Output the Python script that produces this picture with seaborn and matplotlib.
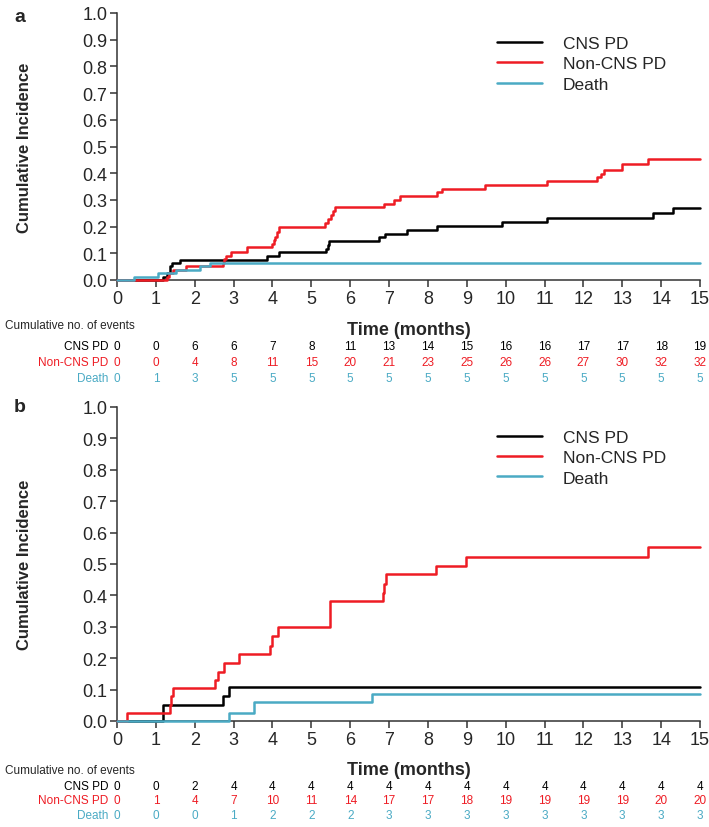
import matplotlib
matplotlib.use("Agg")
import matplotlib.pyplot as plt
import matplotlib.transforms as mtransforms
import numpy as np
import pandas as pd
import seaborn as sns

sns.set_style("ticks")
plt.rcParams["font.family"] = ["Liberation Sans", "DejaVu Sans"]

events = ["CNS PD", "Non-CNS PD", "Death"]
colors = {"CNS PD": "#000000", "Non-CNS PD": "#ee1c24", "Death": "#4aaac4"}
months = list(range(16))

# panel a: step curves (time in months, cumulative incidence)
a_cns_t = [0, 1.19, 1.28, 1.37, 1.41, 1.62, 3.87, 4.16, 5.38, 5.42, 5.45, 6.73, 6.89, 7.45, 8.24, 9.91, 11.06, 13.78, 14.3, 15]
a_cns_y = [0, 0.013, 0.025, 0.051, 0.064, 0.076, 0.091, 0.104, 0.117, 0.130, 0.145, 0.160, 0.172, 0.188, 0.203, 0.218, 0.231, 0.250, 0.268, 0.268]
a_non_t = [0, 1.28, 1.35, 1.43, 1.78, 2.72, 2.76, 2.80, 2.93, 3.34, 3.99, 4.03, 4.07, 4.11, 4.16, 5.36, 5.42, 5.50, 5.55, 5.60,
           6.88, 7.12, 7.29, 8.24, 8.37, 9.48, 11.07, 12.36, 12.45, 12.53, 13.0, 13.65, 15]
a_non_y = [0, 0.013, 0.025, 0.038, 0.051, 0.064, 0.077, 0.090, 0.104, 0.122, 0.135, 0.148, 0.160, 0.180, 0.200, 0.215, 0.230, 0.245, 0.258, 0.272,
           0.285, 0.300, 0.313, 0.328, 0.341, 0.357, 0.370, 0.385, 0.397, 0.412, 0.435, 0.452, 0.452]
a_death_t = [0, 0.44, 1.05, 1.51, 2.14, 2.38, 15]
a_death_y = [0, 0.013, 0.025, 0.038, 0.051, 0.064, 0.064]

# panel b
b_cns_t = [0, 1.19, 2.72, 2.87, 15]
b_cns_y = [0, 0.050, 0.079, 0.107, 0.107]
b_non_t = [0, 0.27, 1.37, 1.40, 1.43, 2.53, 2.59, 2.76, 3.15, 3.93, 3.99, 4.14, 5.49, 6.85, 6.88, 6.92, 8.21, 8.99, 13.67, 15]
b_non_y = [0, 0.026, 0.052, 0.079, 0.105, 0.131, 0.157, 0.185, 0.212, 0.240, 0.270, 0.298, 0.381, 0.408, 0.437, 0.467, 0.494, 0.523, 0.555, 0.555]
b_death_t = [0, 2.89, 3.53, 6.55, 15]
b_death_y = [0, 0.026, 0.059, 0.085, 0.085]

# cumulative no. of events tables
a_cns_n = [0, 0, 6, 6, 7, 8, 11, 13, 14, 15, 16, 16, 17, 17, 18, 19]
a_non_n = [0, 0, 4, 8, 11, 15, 20, 21, 23, 25, 26, 26, 27, 30, 32, 32]
a_death_n = [0, 1, 3, 5, 5, 5, 5, 5, 5, 5, 5, 5, 5, 5, 5, 5]
b_cns_n = [0, 0, 2, 4, 4, 4, 4, 4, 4, 4, 4, 4, 4, 4, 4, 4]
b_non_n = [0, 1, 4, 7, 10, 11, 14, 17, 17, 18, 19, 19, 19, 19, 20, 20]
b_death_n = [0, 0, 0, 1, 2, 2, 2, 3, 3, 3, 3, 3, 3, 3, 3, 3]


def to_frame(curves):
    parts = []
    for name, (t, y) in zip(events, curves):
        parts.append(pd.DataFrame({"time": t, "incidence": y, "event": name}))
    return pd.concat(parts, ignore_index=True)


def draw_panel(fig, rect, letter, curves, table, label_y_px, rows_px, xlab_px, leg_y):
    ax = fig.add_axes(rect)
    df = to_frame(curves)
    sns.lineplot(data=df, x="time", y="incidence", hue="event", hue_order=events,
                 palette=colors, estimator=None, drawstyle="steps-post",
                 linewidth=1.8, ax=ax, clip_on=False, zorder=3)
    ax.set_xlim(0, 15)
    ax.set_ylim(0, 1.0)
    ax.set_xticks(months)
    ax.set_yticks(np.round(np.arange(0, 1.01, 0.1), 1))
    ax.set_yticklabels([f"{v:.1f}" for v in np.arange(0, 1.01, 0.1)])
    ax.tick_params(labelsize=13, length=5, width=1.1, color="#333333", pad=2)
    for s in ["left", "bottom"]:
        ax.spines[s].set_linewidth(1.1)
        ax.spines[s].set_color("#333333")
    sns.despine(ax=ax)
    ax.set_ylabel("Cumulative Incidence", fontsize=12, fontweight="bold")
    ax.yaxis.set_label_coords(-0.145, 0.5)
    ax.set_xlabel("Time (months)", fontsize=13, fontweight="bold")
    h = rect[3] * 828
    ax.xaxis.set_label_coords(0.5, -xlab_px / h)
    ax.legend(title=None, frameon=False, fontsize=12.5, loc="upper left",
              bbox_to_anchor=(0.64, leg_y), handlelength=2.6, handletextpad=1.2,
              labelspacing=0.3, borderaxespad=0)

    fig.text(20 / 709, 1 - label_y_px / 828, letter, fontsize=14, fontweight="bold",
             ha="center", va="center")

    tr = mtransforms.blended_transform_factory(ax.transData, fig.transFigure)
    fig.text(5 / 709, 1 - rows_px[0] / 828, "Cumulative no. of events", fontsize=8.5,
             ha="left", va="center")
    for name, counts, ypx in zip(events, table, rows_px[1:]):
        yf = 1 - ypx / 828
        fig.text(108 / 709, yf, name, fontsize=8.5, color=colors[name],
                 ha="right", va="center")
        for m, c in zip(months, counts):
            ax.text(m, yf, str(c), transform=tr, fontsize=8.5, color=colors[name],
                    ha="center", va="center")
    return ax


fig = plt.figure(figsize=(7.09, 8.28), dpi=100)

ax_a = draw_panel(fig, [117 / 709, (828 - 281) / 828, 583 / 709, 267 / 828], "a",
                  [(a_cns_t, a_cns_y), (a_non_t, a_non_y), (a_death_t, a_death_y)],
                  [a_cns_n, a_non_n, a_death_n], 17, [326, 347, 363, 379], 41, 0.94)
ax_b = draw_panel(fig, [117 / 709, (828 - 722) / 828, 583 / 709, 314 / 828], "b",
                  [(b_cns_t, b_cns_y), (b_non_t, b_non_y), (b_death_t, b_death_y)],
                  [b_cns_n, b_non_n, b_death_n], 408, [771, 787, 801, 816], 40, 0.95)

fig.savefig("out.png", dpi=100)
